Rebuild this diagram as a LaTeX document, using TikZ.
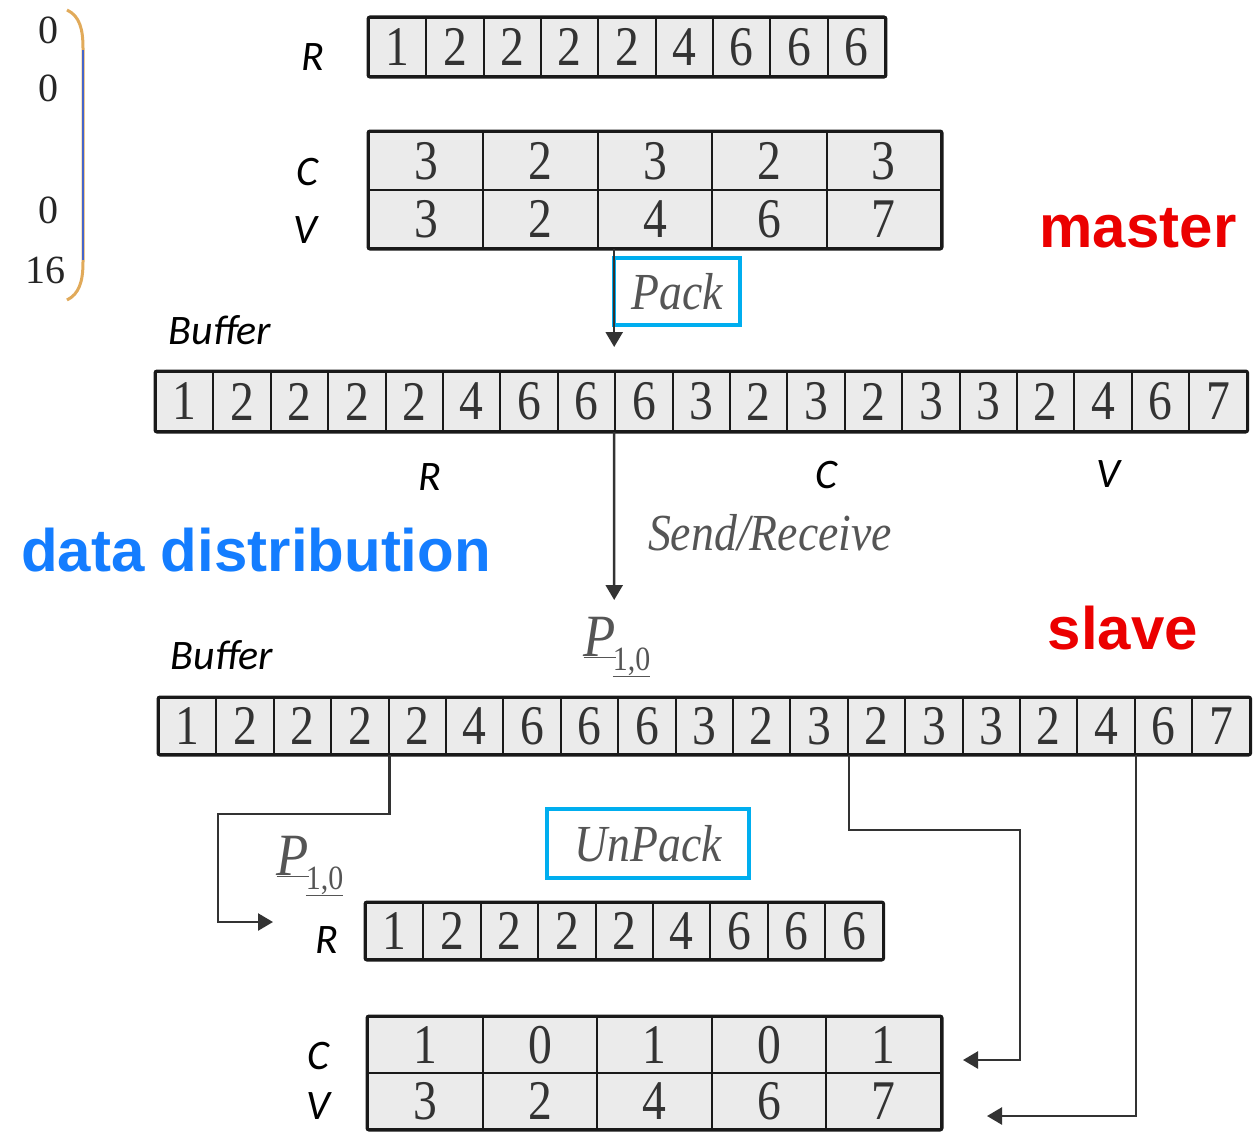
\documentclass[tikz,border=0pt]{standalone}
\usepackage{fontspec}
\setmainfont{Liberation Serif}
\newfontfamily\lblfont{Carlito}
\newfontfamily\headfont{Liberation Sans}
\newfontfamily\opfont[FakeStretch=0.88]{Liberation Serif}
\newfontfamily\digitfont[FakeStretch=0.85]{Liberation Serif}
\usetikzlibrary{arrows.meta}

\definecolor{cellgray}{RGB}{235,235,235}
\definecolor{boxcyan}{RGB}{0,174,239}
\definecolor{distblue}{RGB}{20,125,255}
\definecolor{rolered}{RGB}{235,0,0}
\definecolor{opgray}{RGB}{85,85,85}
\definecolor{parenorange}{RGB}{225,170,90}
\definecolor{parenblue}{RGB}{70,100,200}

\tikzset{
  cell/.style={draw=black!90, fill=cellgray, line width=2pt, inner sep=0pt,
    anchor=north west, text=black!80, font=\digitfont\fontsize{56}{56}\selectfont},
  frame/.style={draw=black!90, line width=3pt, rounded corners=2pt},
  axislbl/.style={font=\lblfont\itshape\fontsize{42}{42}\selectfont},
  opbox/.style={draw=boxcyan, line width=4pt, inner sep=0pt, text=opgray,
    font=\opfont\itshape\fontsize{52}{52}\selectfont},
  optext/.style={text=opgray, font=\opfont\itshape\fontsize{52}{52}\selectfont},
  role/.style={font=\headfont\bfseries\fontsize{60}{60}\selectfont},
  idx/.style={font=\fontsize{40}{40}\selectfont, text=black!85},
  conn/.style={draw=black!80, line width=2.5pt, -{Triangle[length=15pt,width=17pt]}},
}

% one row of equal cells: name, x, y (top left), width, height, values
\newcommand{\cellrow}[6]{%
  \foreach \val [count=\k] in {#6} {
    \node[cell, minimum width=#4pt, minimum height=#5pt] (#1-\k) at ({#2+(\k-1)*#4}, #3) {\val};
  }%
}
\newcommand{\plabel}{%
  {\opfont\itshape\fontsize{60}{60}\selectfont\underline{P}}\kern-3pt%
  \raisebox{-14pt}{\opfont\fontsize{34}{34}\selectfont\underline{1,0}}}

\begin{document}
\begin{tikzpicture}[x=1pt,y=-1pt]
\useasboundingbox (0,0) rectangle (1258,1132);

% index column with its closing bracket
\node[idx] (i1) at (48,30) {0};
\node[idx] (i2) at (48,88) {0};
\node[idx] (i3) at (48,210) {0};
\node[idx] (i4) at (45,270) {16};
\draw[parenorange, line width=3pt] (67,10) .. controls (80,16) and (83,30) .. (83,48)
  -- (83,262) .. controls (83,282) and (79,294) .. (67,300);
\draw[parenblue, line width=1.5pt] (83,50) -- (83,260);

% master arrays
\node[axislbl] (rlab1) at (313,57) {R};
\cellrow{r1}{368}{17}{57.33}{58}{1,2,2,2,2,4,6,6,6}
\draw[frame] (r1-1.north west) rectangle (r1-9.south east);

\node[axislbl] (clab1) at (307,172) {C};
\node[axislbl] (vlab1) at (305,230) {V};
\cellrow{c1}{368}{131}{114.4}{58}{3,2,3,2,3}
\cellrow{v1}{368}{189}{114.4}{58}{3,2,4,6,7}
\draw[frame] (c1-1.north west) rectangle (v1-5.south east);

\node[role, text=rolered] (master) at (1138,228) {master};

% packing into the send buffer
\node[opbox, minimum width=126pt, minimum height=67pt] (pack) at (677,291.5) {Pack};
\node[axislbl] (buflab1) at (220,330) {Buffer};
\cellrow{b1}{155}{371}{57.4}{59}{1,2,2,2,2,4,6,6,6,3,2,3,2,3,3,2,4,6,7}
\draw[frame] (b1-1.north west) rectangle (b1-19.south east);
\draw[conn, shorten >=24pt] (b1-9.north west |- v1-3.south) -- (b1-9.north west);

\node[axislbl] (rlab2) at (430,477) {R};
\node[axislbl] (clab2) at (826,475) {C};
\node[axislbl] (vlab2) at (1108,474) {V};

% transfer
\node[role, text=distblue] (dist) at (256,550) {data distribution};
\node[optext] (send) at (770,533) {Send/Receive};
\coordinate (recvtip) at (614.2,600);
\draw[conn] (b1-9.south west) -- (recvtip);

% slave side
\node[role, text=rolered] (slave) at (1123,628) {slave};
\node[text=opgray, inner sep=0pt] (p1) at (617,647) {\plabel};
\node[axislbl] (buflab2) at (222,655) {Buffer};
\cellrow{b2}{158}{697}{57.4}{56}{1,2,2,2,2,4,6,6,6,3,2,3,2,3,3,2,4,6,7}
\draw[frame] (b2-1.north west) rectangle (b2-19.south east);

\node[opbox, minimum width=202pt, minimum height=69pt] (unpack) at (648,843.5) {UnPack};

\node[text=opgray, inner sep=0pt] (p2) at (310,866) {\plabel};
\node[axislbl] (rlab3) at (327,940) {R};
\cellrow{r2}{365}{902}{57.4}{56}{1,2,2,2,2,4,6,6,6}
\draw[frame] (r2-1.north west) rectangle (r2-9.south east);

\node[axislbl] (clab3) at (318,1056) {C};
\node[axislbl] (vlab3) at (318,1106) {V};
\cellrow{c2}{367}{1016}{114.6}{56}{1,0,1,0,1}
\cellrow{v2}{367}{1072}{114.6}{56}{3,2,4,6,7}
\draw[frame] (c2-1.north west) rectangle (v2-5.south east);

% unpacking connectors
\coordinate (bendR) at (218,814);
\coordinate (rin) at (273,922);
\coordinate (bendC) at (1020,830);
\coordinate (cin) at (963,1060);
\coordinate (vin) at (987,1116);
\draw[conn] (b2-4.south east) |- (bendR) |- (rin);
\draw[conn] (b2-12.south east) |- (bendC) |- (cin);
\draw[conn] (b2-17.south east) |- (vin);
\end{tikzpicture}
\end{document}
